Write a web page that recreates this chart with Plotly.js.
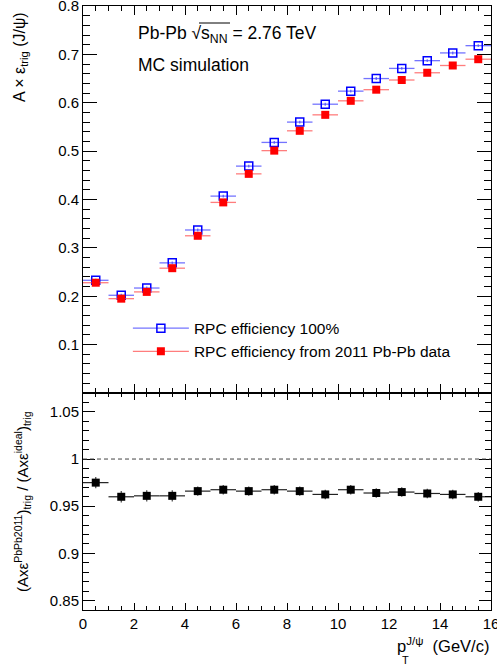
<!DOCTYPE html>
<html>
<head>
<meta charset="utf-8">
<script src="https://cdn.plot.ly/plotly-3.0.1.min.js"></script>
<style>html,body{margin:0;padding:0;background:#fff;}#chart{width:497px;height:667px;}</style>
</head>
<body>
<div id="chart"></div>
<script>
// pT bin centres (GeV/c) and half bin widths
const ptBins = [0.5, 1.5, 2.5, 3.5, 4.5, 5.5, 6.5, 7.5, 8.5, 9.5, 10.5, 11.5, 12.5, 13.5, 14.5, 15.5];
const ptHalfWidth = [0.5, 0.5, 0.5, 0.5, 0.5, 0.5, 0.5, 0.5, 0.5, 0.5, 0.5, 0.5, 0.5, 0.5, 0.5, 0.5];
// A x eff_trig, RPC efficiency 100%
const effIdeal = [0.233, 0.202, 0.217, 0.269, 0.337, 0.407, 0.469, 0.518, 0.560, 0.597, 0.624, 0.650, 0.671, 0.687, 0.703, 0.718];
const effIdealErr = [0.003, 0.003, 0.003, 0.003, 0.003, 0.003, 0.003, 0.003, 0.003, 0.003, 0.003, 0.003, 0.003, 0.003, 0.003, 0.003];
// A x eff_trig, RPC efficiency from 2011 Pb-Pb data
const effData = [0.228, 0.195, 0.209, 0.258, 0.325, 0.394, 0.453, 0.501, 0.542, 0.575, 0.604, 0.627, 0.647, 0.662, 0.677, 0.690];
const effDataErr = [0.003, 0.003, 0.003, 0.003, 0.003, 0.003, 0.003, 0.003, 0.003, 0.003, 0.003, 0.003, 0.003, 0.003, 0.003, 0.003];
// ratio data / ideal
const ratio = [0.975, 0.960, 0.961, 0.961, 0.966, 0.9675, 0.966, 0.9675, 0.966, 0.9625, 0.9675, 0.964, 0.965, 0.9635, 0.9625, 0.960];
const ratioErr = [0.006, 0.006, 0.006, 0.006, 0.005, 0.005, 0.005, 0.005, 0.005, 0.005, 0.005, 0.005, 0.005, 0.005, 0.005, 0.005];
// tick labels
const topYTicks = [0.1, 0.2, 0.3, 0.4, 0.5, 0.6, 0.7, 0.8];
const botYTicks = [0.85, 0.9, 0.95, 1, 1.05];
const botYTickText = ['0.85', '0.9', '0.95', '1', '1.05'];
const xTicks = [0, 2, 4, 6, 8, 10, 12, 14, 16];

const FONT = 'Liberation Sans, Arial, Helvetica, sans-serif';
const blue = '#0000ff', blueLine = 'rgba(70,70,255,0.75)';
const red = '#ff0000', redLine = 'rgba(255,70,70,0.7)';

const traces = [
  {
    x: ptBins, y: effIdeal, xaxis: 'x2', yaxis: 'y2', type: 'scatter', mode: 'markers', showlegend: false,
    marker: {symbol: 'square-open', size: 8, color: blue, line: {width: 1.5, color: blue}},
    error_x: {type: 'data', array: ptHalfWidth, width: 0, thickness: 1.3, color: blueLine},
    error_y: {type: 'data', array: effIdealErr, width: 0, thickness: 1.3, color: blueLine}
  },
  {
    x: ptBins, y: effData, xaxis: 'x2', yaxis: 'y2', type: 'scatter', mode: 'markers', showlegend: false,
    marker: {symbol: 'square', size: 8, color: red},
    error_x: {type: 'data', array: ptHalfWidth, width: 0, thickness: 1.3, color: redLine},
    error_y: {type: 'data', array: effDataErr, width: 0, thickness: 1.3, color: redLine}
  },
  {
    x: [null], y: [null], xaxis: 'x2', yaxis: 'y2', type: 'scatter', mode: 'lines+markers',
    name: 'RPC efficiency 100%',
    line: {color: blueLine, width: 1.3},
    marker: {symbol: 'square-open', size: 8, color: blue, line: {width: 1.5, color: blue}}
  },
  {
    x: [null], y: [null], xaxis: 'x2', yaxis: 'y2', type: 'scatter', mode: 'lines+markers',
    name: 'RPC efficiency from 2011 Pb-Pb data',
    line: {color: redLine, width: 1.3},
    marker: {symbol: 'square', size: 8, color: red}
  },
  {
    x: ptBins, y: ratio, xaxis: 'x', yaxis: 'y', type: 'scatter', mode: 'markers', showlegend: false,
    marker: {symbol: 'square', size: 8, color: '#000'},
    error_x: {type: 'data', array: ptHalfWidth, width: 0, thickness: 1.2, color: '#222'},
    error_y: {type: 'data', array: ratioErr, width: 0, thickness: 1.2, color: '#444'}
  }
];

const split = 217 / 604;
const axisCommon = {
  showline: true, linecolor: '#000', linewidth: 1, mirror: 'ticks', ticks: 'inside',
  tickcolor: '#000', tickwidth: 1, showgrid: false, zeroline: false,
  ticklabeloverflow: 'allow',
  tickfont: {family: FONT, size: 15, color: '#000'}
};

const layout = {
  width: 497, height: 667,
  margin: {l: 83, r: 6, t: 6, b: 57},
  paper_bgcolor: '#fff', plot_bgcolor: '#fff',
  font: {family: FONT, color: '#000'},
  showlegend: true,
  legend: {
    x: 0.11, y: 0.494, xanchor: 'left', yanchor: 'top', bgcolor: 'rgba(0,0,0,0)',
    font: {family: FONT, size: 15.5, color: '#000'}, itemwidth: 56, tracegroupgap: 0
  },
  xaxis: Object.assign({}, axisCommon, {
    domain: [0, 1], anchor: 'y', range: [0, 16], tickmode: 'array', tickvals: xTicks,
    ticklen: 7, minor: {dtick: 0.5, ticklen: 4, ticks: 'inside', tickcolor: '#000'}
  }),
  xaxis2: Object.assign({}, axisCommon, {
    domain: [0, 1], anchor: 'y2', range: [0, 16], matches: 'x', showticklabels: false,
    tickmode: 'array', tickvals: xTicks,
    ticklen: 9, minor: {dtick: 0.5, ticklen: 5, ticks: 'inside', tickcolor: '#000'}
  }),
  yaxis: Object.assign({}, axisCommon, {
    domain: [0, split], anchor: 'x', range: [0.84, 1.07], tickmode: 'array',
    tickvals: botYTicks, ticktext: botYTickText,
    ticklen: 12, minor: {dtick: 0.01, ticklen: 6, ticks: 'inside', tickcolor: '#000'}
  }),
  yaxis2: Object.assign({}, axisCommon, {
    domain: [split, 1], anchor: 'x2', range: [0, 0.8], tickmode: 'array', tickvals: topYTicks,
    ticklen: 14, minor: {dtick: 0.02, ticklen: 7, ticks: 'inside', tickcolor: '#000'}
  }),
  shapes: [
    {type: 'line', xref: 'paper', yref: 'y', x0: 0, x1: 1, y0: 1, y1: 1,
     line: {color: '#444', width: 1, dash: '4px,3px'}},
    {type: 'line', xref: 'paper', yref: 'paper', x0: (199 - 83) / 408, x1: (230 - 83) / 408,
     y0: (610 - 23) / 604, y1: (610 - 23) / 604, line: {color: '#000', width: 1}}
  ],
  annotations: [
    {text: 'Pb-Pb √s<sub>NN</sub> = 2.76 TeV', xref: 'paper', yref: 'paper',
     x: (136 - 83) / 408, y: (610 - 35) / 604, xanchor: 'left', yanchor: 'middle',
     showarrow: false, font: {family: FONT, size: 17.5, color: '#000'}},
    {text: 'MC simulation', xref: 'paper', yref: 'paper',
     x: (136 - 83) / 408, y: (610 - 65) / 604, xanchor: 'left', yanchor: 'middle',
     showarrow: false, font: {family: FONT, size: 17.5, color: '#000'}},
    {text: 'A × ε<sub>trig</sub> (J/ψ)', xref: 'paper', yref: 'paper', textangle: -90,
     x: (20 - 83) / 408, y: (610 - 57) / 604, xanchor: 'center', yanchor: 'middle',
     showarrow: false, font: {family: FONT, size: 16, color: '#000'}},
    {text: '(Axε<sup>PbPb2011</sup>)<sub>trig</sub> / (Axε<sup>ideal</sup>)<sub>trig</sub>',
     xref: 'paper', yref: 'paper', textangle: -90,
     x: (22 - 83) / 408, y: (610 - 502) / 604, xanchor: 'center', yanchor: 'middle',
     showarrow: false, font: {family: FONT, size: 15, color: '#000'}},
    {text: 'p<sup>J/ψ</sup>  (GeV/c)', xref: 'paper', yref: 'paper',
     x: 1, y: (610 - 645) / 604, xanchor: 'right', yanchor: 'middle',
     showarrow: false, font: {family: FONT, size: 16.5, color: '#000'}},
    {text: 'T', xref: 'paper', yref: 'paper',
     x: (405 - 83) / 408, y: (610 - 660) / 604, xanchor: 'center', yanchor: 'middle',
     showarrow: false, font: {family: FONT, size: 11, color: '#000'}}
  ]
};

Plotly.newPlot('chart', traces, layout, {staticPlot: true, displayModeBar: false});
</script>
</body>
</html>
